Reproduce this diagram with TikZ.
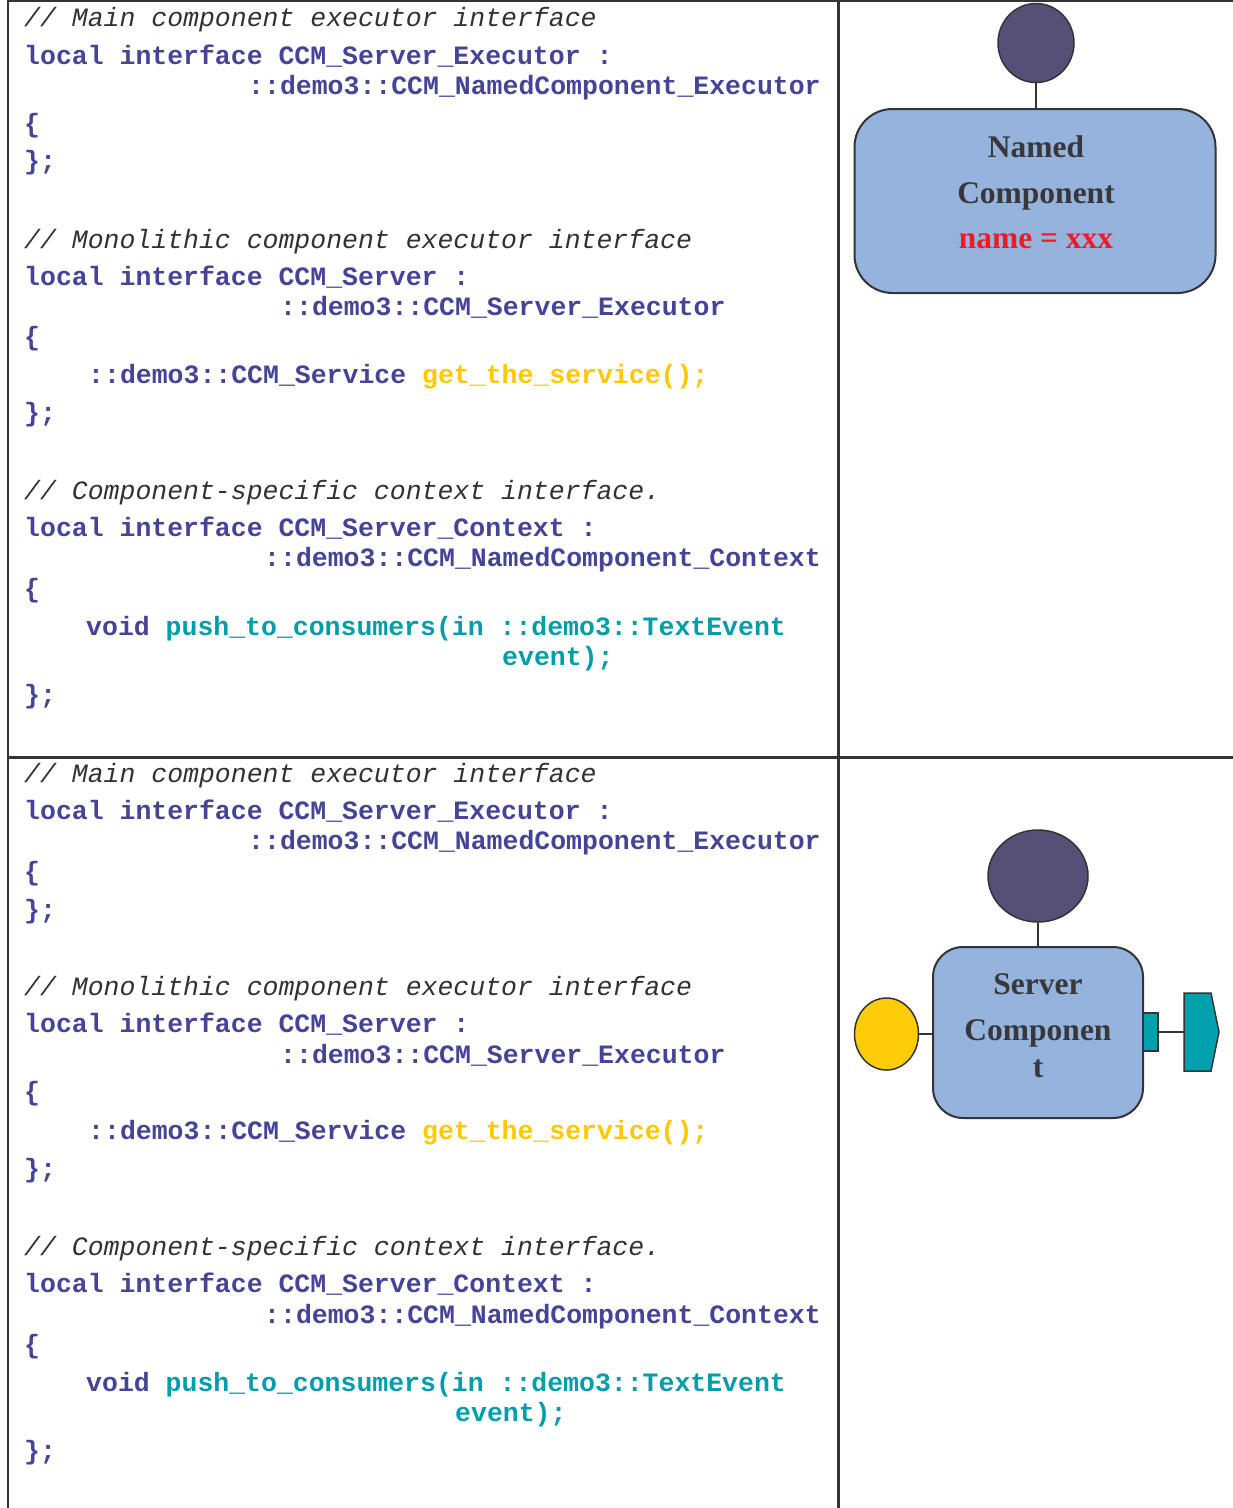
\documentclass[tikz,border=0pt]{standalone}
\usepackage{fontspec}
\setmonofont{Liberation Mono}
\newfontfamily\lblserif{Liberation Serif}
\usetikzlibrary{shapes.geometric}

\definecolor{codeblue}{RGB}{70,68,150}
\definecolor{cmtgray}{RGB}{50,50,52}
\definecolor{codeteal}{RGB}{0,158,170}
\definecolor{codeyellow}{RGB}{255,200,0}
\definecolor{portpurple}{RGB}{86,80,118}
\definecolor{compblue}{RGB}{149,179,220}
\definecolor{portyellow}{RGB}{255,204,10}
\definecolor{portteal}{RGB}{0,160,175}
\definecolor{rulegray}{RGB}{51,51,56}
\definecolor{attrred}{RGB}{237,28,36}
\definecolor{lbldark}{RGB}{55,55,60}

\tikzset{
  codeline/.style={anchor=base west, inner sep=0pt, text=codeblue,
    font=\ttfamily\bfseries\fontsize{26.5}{30}\selectfont},
  cmtline/.style={anchor=base west, inner sep=0pt, text=cmtgray,
    font=\ttfamily\itshape\fontsize{26.5}{30}\selectfont},
  lbl/.style={anchor=base, inner sep=0pt, text=lbldark,
    font=\lblserif\bfseries\fontsize{31.5}{36}\selectfont},
  tablerule/.style={draw=rulegray, line width=2.5pt},
  comp/.style={draw=rulegray, line width=2pt, fill=compblue},
  port/.style={draw=rulegray, line width=1.5pt, ellipse, inner sep=0pt},
  conn/.style={draw=rulegray, line width=2pt}
}

\begin{document}
\begin{tikzpicture}[x=1pt,y=-1pt]
\useasboundingbox (0,0) rectangle (1233,1508);
\fill[white] (0,0) rectangle (1233,1508);

% table rules
\draw[tablerule] (8,1) -- (1233,1);
\draw[tablerule] (8,0) -- (8,1508);
\draw[tablerule] (838.5,0) -- (838.5,1508);
\draw[tablerule] (8,757.5) -- (1233,757.5);

% ---- upper code cell ----
\node[cmtline]  (a1)  at (24,26)  {// Main component executor interface};
\node[codeline] (a2)  at (24,64)  {local interface CCM\_Server\_Executor :};
\node[codeline] (a3)  at (248,94) {::demo3::CCM\_NamedComponent\_Executor};
\node[codeline] (a4)  at (24,132) {\{};
\node[codeline] (a5)  at (24,169) {\};};
\node[cmtline]  (a6)  at (24,248) {// Monolithic component executor interface};
\node[codeline] (a7)  at (24,285) {local interface CCM\_Server :};
\node[codeline] (a8)  at (280,315) {::demo3::CCM\_Server\_Executor};
\node[codeline] (a9)  at (24,345) {\{};
\node[codeline] (a10) at (88,383) {::demo3::CCM\_Service \textcolor{codeyellow}{get\_the\_service();}};
\node[codeline] (a11) at (24,421) {\};};
\node[cmtline]  (a12) at (24,499) {// Component-specific context interface.};
\node[codeline] (a13) at (24,536) {local interface CCM\_Server\_Context :};
\node[codeline] (a14) at (264,566) {::demo3::CCM\_NamedComponent\_Context};
\node[codeline] (a15) at (24,597) {\{};
\node[codeline] (a16) at (86,635) {void \textcolor{codeteal}{push\_to\_consumers(in ::demo3::TextEvent}};
\node[codeline, text=codeteal] (a17) at (502,665) {event);};
\node[codeline] (a18) at (24,703) {\};};

% ---- lower code cell ----
\node[cmtline]  (b1)  at (24,782)  {// Main component executor interface};
\node[codeline] (b2)  at (24,819)  {local interface CCM\_Server\_Executor :};
\node[codeline] (b3)  at (248,849) {::demo3::CCM\_NamedComponent\_Executor};
\node[codeline] (b4)  at (24,880)  {\{};
\node[codeline] (b5)  at (24,918)  {\};};
\node[cmtline]  (b6)  at (24,995)  {// Monolithic component executor interface};
\node[codeline] (b7)  at (24,1032) {local interface CCM\_Server :};
\node[codeline] (b8)  at (280,1063) {::demo3::CCM\_Server\_Executor};
\node[codeline] (b9)  at (24,1100) {\{};
\node[codeline] (b10) at (88,1139) {::demo3::CCM\_Service \textcolor{codeyellow}{get\_the\_service();}};
\node[codeline] (b11) at (24,1177) {\};};
\node[cmtline]  (b12) at (24,1255) {// Component-specific context interface.};
\node[codeline] (b13) at (24,1292) {local interface CCM\_Server\_Context :};
\node[codeline] (b14) at (264,1323) {::demo3::CCM\_NamedComponent\_Context};
\node[codeline] (b15) at (24,1353) {\{};
\node[codeline] (b16) at (86,1391) {void \textcolor{codeteal}{push\_to\_consumers(in ::demo3::TextEvent}};
\node[codeline, text=codeteal] (b17) at (455,1421) {event);};
\node[codeline] (b18) at (24,1459) {\};};

% ---- Named Component ----
\node[comp, rounded corners=38pt, minimum width=361pt, minimum height=184pt]
  (ncbox) at (1035,201) {};
\node[port, fill=portpurple, minimum width=76pt, minimum height=79pt]
  (ncfacet) at (1036,43) {};
\draw[conn] (ncfacet.south) -- (ncfacet.south |- ncbox.north);
\node[lbl] (nclbl1) at (1036,157) {Named};
\node[lbl] (nclbl2) at (1036,203) {Component};
\node[lbl, text=attrred] (nclbl3) at (1036,248) {name = xxx};

% ---- Server Component ----
\node[comp, rounded corners=30pt, minimum width=210pt, minimum height=171pt]
  (srvbox) at (1038,1032.5) {};
\node[port, fill=portpurple, minimum width=100pt, minimum height=92pt]
  (srvfacet) at (1038,876) {};
\draw[conn] (srvfacet.south) -- (srvfacet.south |- srvbox.north);
\node[port, fill=portyellow, minimum width=64pt, minimum height=72pt]
  (srvrecep) at (886.5,1034) {};
\draw[conn] (srvrecep.east) -- (srvrecep.east -| srvbox.west);
\node[draw=rulegray, line width=1.5pt, fill=portteal, inner sep=0pt,
  minimum width=15pt, minimum height=38pt] (srvsrc) at (1150.5,1032) {};
\coordinate (sinkin) at (1184,1032);
\draw[rulegray, line width=1.5pt, fill=portteal]
  (1184,993) -- (1211,993) -- (1219,1032) -- (1211,1071) -- (1184,1071) -- cycle;
\draw[conn] (srvsrc.east) -- (sinkin);
\node[lbl] (srvlbl1) at (1038,994) {Server};
\node[lbl] (srvlbl2) at (1038,1040) {Componen};
\node[lbl] (srvlbl3) at (1038,1077) {t};
\end{tikzpicture}
\end{document}
